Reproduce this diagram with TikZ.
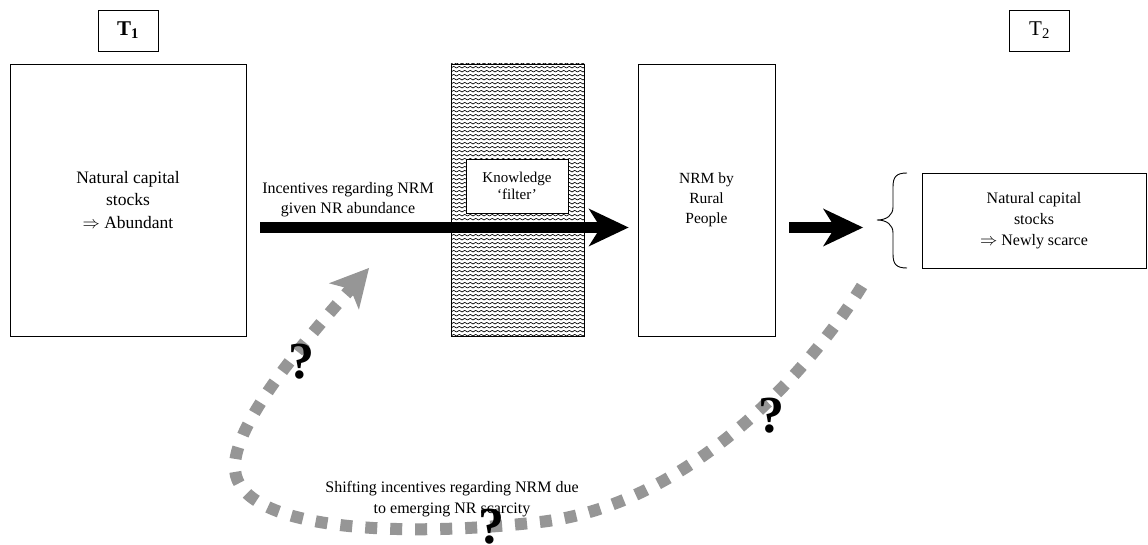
\documentclass[tikz,border=0pt]{standalone}
\usepackage{fontspec}
\setmainfont{Liberation Serif}
\usetikzlibrary{arrows.meta,patterns}
\definecolor{qgray}{RGB}{150,150,150}
\pgfdeclarepatternformonly{kwaves}{\pgfqpoint{-1pt}{-1pt}}{\pgfqpoint{6.5pt}{5pt}}{\pgfqpoint{5.5pt}{4pt}}{%
 \pgfsetlinewidth{0.65pt}%
 \pgfpathmoveto{\pgfqpoint{0pt}{1pt}}%
 \pgfpathcurveto{\pgfqpoint{1.2pt}{1pt}}{\pgfqpoint{1.5pt}{2.6pt}}{\pgfqpoint{2.75pt}{2.6pt}}%
 \pgfpathcurveto{\pgfqpoint{4pt}{2.6pt}}{\pgfqpoint{4.3pt}{1pt}}{\pgfqpoint{5.5pt}{1pt}}%
 \pgfusepath{stroke}}
\begin{document}
\begin{tikzpicture}[x=1pt,y=-1pt,
  box/.style={draw=black, line width=0.9pt, fill=white, align=center, inner sep=0pt},
  tbox/.style={box, minimum width=60pt, minimum height=41pt, font=\fontsize{21}{24}\selectfont},
  lbl/.style={align=center, inner sep=0pt},
  bigarrow/.style={line width=11.5pt, -{Stealth[length=40pt,width=38pt,inset=12pt,line width=0pt]}},
  grayarrow/.style={draw=qgray, line width=12pt, dash pattern=on 12pt off 13pt,
     -{Stealth[length=38pt,width=40pt,inset=10pt,line width=0pt]}},
  qm/.style={inner sep=0pt, font=\fontsize{52}{52}\selectfont\bfseries}]
\fill[white] (0,0) rectangle (1148,539);
% time labels
\node[tbox, font=\fontsize{21}{24}\selectfont\bfseries] (t1) at (128,30.5) {T\textsubscript{1}};
\node[tbox] (t2) at (1039.5,30.5) {T\textsubscript{2}};
% main boxes
\node[box, minimum width=236pt, minimum height=272pt, font=\fontsize{17.5}{22.5}\selectfont] (L) at (128,200)
  {Natural capital\\stocks\\$\Rightarrow$ Abundant};
\node[draw=black, line width=0.9pt, pattern=kwaves, minimum width=133pt, minimum height=272pt, inner sep=0pt] (H) at (517.5,200) {};
\node[box, minimum width=102pt, minimum height=54pt, font=\fontsize{15}{16.5}\selectfont] (K) at (517,186)
  {Knowledge\\‘filter’};
\node[box, minimum width=137pt, minimum height=272pt, font=\fontsize{15.5}{20}\selectfont] (N) at (706.5,200)
  {NRM by\\Rural\\People};
\node[box, minimum width=224pt, minimum height=95pt, font=\fontsize{16}{21}\selectfont] (R) at (1034,220.5)
  {Natural capital\\stocks\\$\Rightarrow$ Newly scarce};
% arrows
\coordinate (a1s) at (260,227.5);
\coordinate (a2e) at (863,227.5);
\coordinate (bt) at (877,220);
\draw[bigarrow] (a1s) -- ([xshift=-9pt]a1s -| N.west);
\draw[bigarrow] ([xshift=14pt]N.east |- a1s) -- (a2e);
\node[lbl, font=\fontsize{16}{20}\selectfont] (inc) at (348,200) {Incentives regarding NRM\\given NR abundance};
% brace
\draw[line width=0.9pt] (907,173) .. controls (896,173) and (893,177) .. (893,187) -- (893,207)
  .. controls (893,215) and (887,220) .. (bt)
  .. controls (887,220) and (893,225) .. (893,233) -- (893,254)
  .. controls (893,264) and (896,268) .. (907,268);
% feedback loop
\coordinate (gs) at (862,286);
\coordinate (ge) at (369,268);
\draw[grayarrow] (gs) .. controls (810,370) and (690,505) .. (540,522)
  .. controls (390,539) and (240,528) .. (235,470)
  .. controls (231,425) and (310,335) .. (ge);
\node[lbl, font=\fontsize{16}{21}\selectfont] (shift) at (452,499) {Shifting incentives regarding NRM due\\to emerging NR scarcity};
\node[qm] (q1) at (301,362) {?};
\node[qm] (q2) at (771,416) {?};
\node[qm] (q3) at (491,527) {?};
\end{tikzpicture}
\end{document}
